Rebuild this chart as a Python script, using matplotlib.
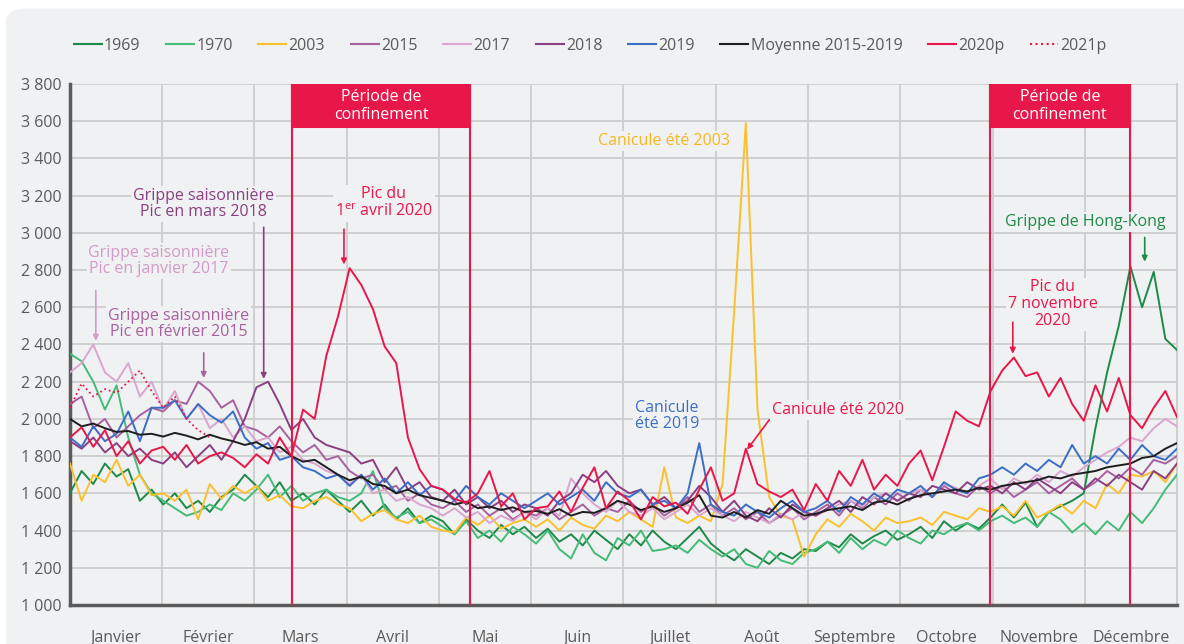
import numpy as np
import matplotlib.pyplot as plt
from matplotlib.patches import FancyBboxPatch, Rectangle
from matplotlib.lines import Line2D

plt.rcParams['font.family'] = ['Open Sans', 'DejaVu Sans']
plt.rcParams['mathtext.fontset'] = 'custom'
plt.rcParams['mathtext.rm'] = 'Open Sans'

# Décès quotidiens, 8 valeurs par mois
months = ['Janvier', 'Février', 'Mars', 'Avril', 'Mai', 'Juin', 'Juillet',
          'Août', 'Septembre', 'Octobre', 'Novembre', 'Décembre']
yticks = list(range(1000, 3801, 200))

d1969 = [1600, 1720, 1650, 1760, 1690, 1730, 1560, 1620,
         1540, 1600, 1520, 1560, 1500, 1580, 1620, 1700,
         1640, 1580, 1660, 1560, 1600, 1540, 1620, 1560,
         1500, 1560, 1480, 1540, 1460, 1520, 1440, 1480,
         1450, 1380, 1460, 1400, 1360, 1430, 1380, 1420,
         1360, 1410, 1340, 1380, 1320, 1400, 1350, 1300,
         1380, 1320, 1400, 1340, 1300, 1360, 1420, 1330,
         1280, 1240, 1300, 1260, 1220, 1280, 1250, 1300,
         1290, 1340, 1310, 1380, 1330, 1370, 1400, 1350,
         1380, 1420, 1360, 1450, 1400, 1440, 1410, 1470,
         1540, 1470, 1550, 1420, 1500, 1530, 1560, 1600,
         1950, 2250, 2500, 2820, 2600, 2790, 2430, 2370]

d1970 = [2350, 2310, 2200, 2050, 2180, 1900, 1700, 1600,
         1560, 1520, 1480, 1500, 1540, 1510, 1600, 1560,
         1620, 1700, 1580, 1640, 1560, 1600, 1620, 1580,
         1560, 1600, 1720, 1520, 1470, 1500, 1440, 1460,
         1420, 1380, 1450, 1360, 1400, 1340, 1420, 1380,
         1330, 1400, 1300, 1250, 1380, 1280, 1240, 1360,
         1320, 1400, 1290, 1300, 1320, 1280, 1350, 1300,
         1260, 1300, 1220, 1200, 1290, 1240, 1220, 1280,
         1300, 1340, 1280, 1360, 1300, 1350, 1320, 1400,
         1360, 1330, 1400, 1380, 1420, 1440, 1400, 1450,
         1480, 1440, 1470, 1420, 1500, 1460, 1390, 1440,
         1380, 1450, 1400, 1500, 1440, 1520, 1620, 1700]

d2003 = [1760, 1560, 1700, 1660, 1780, 1640, 1700, 1590,
         1600, 1560, 1620, 1460, 1650, 1570, 1640, 1600,
         1640, 1560, 1590, 1530, 1520, 1560, 1580, 1540,
         1520, 1450, 1490, 1510, 1460, 1440, 1480, 1420,
         1400, 1390, 1470, 1430, 1480, 1410, 1440, 1460,
         1420, 1460, 1400, 1470, 1430, 1410, 1480, 1450,
         1500, 1460, 1420, 1740, 1470, 1440, 1480, 1450,
         1650, 2580, 3590, 2050, 1580, 1480, 1460, 1260,
         1380, 1460, 1420, 1490, 1450, 1400, 1470, 1440,
         1450, 1470, 1430, 1500, 1480, 1460, 1520, 1500,
         1530, 1480, 1560, 1470, 1500, 1540, 1490, 1560,
         1520, 1650, 1600, 1700, 1690, 1720, 1660, 1760]

d2015 = [2080, 2120, 1950, 2000, 1900, 1960, 2020, 2060,
         2040, 2100, 2080, 2200, 2150, 2060, 2100, 1960,
         1940, 1900, 1960, 1880, 1820, 1860, 1780, 1800,
         1720, 1680, 1700, 1620, 1640, 1560, 1600, 1540,
         1520, 1560, 1500, 1540, 1480, 1520, 1460, 1500,
         1480, 1520, 1460, 1500, 1540, 1480, 1520, 1500,
         1560, 1500, 1540, 1480, 1520, 1580, 1500, 1540,
         1480, 1520, 1460, 1500, 1440, 1480, 1520, 1460,
         1500, 1540, 1480, 1560, 1520, 1580, 1540, 1600,
         1560, 1620, 1580, 1640, 1600, 1580, 1640, 1600,
         1640, 1580, 1620, 1660, 1600, 1640, 1680, 1620,
         1660, 1720, 1680, 1740, 1700, 1780, 1760, 1800]

d2017 = [2250, 2300, 2400, 2250, 2200, 2300, 2120, 2200,
         2050, 2150, 2000, 2080, 1950, 2000, 1900, 1960,
         1880, 1900, 1820, 1850, 1780, 1760, 1720, 1700,
         1650, 1700, 1600, 1620, 1560, 1580, 1540, 1520,
         1480, 1520, 1470, 1500, 1440, 1480, 1450, 1500,
         1460, 1520, 1480, 1680, 1600, 1540, 1500, 1560,
         1500, 1480, 1520, 1460, 1500, 1540, 1480, 1520,
         1480, 1450, 1500, 1470, 1440, 1490, 1460, 1500,
         1480, 1510, 1540, 1560, 1530, 1580, 1600, 1560,
         1600, 1620, 1580, 1650, 1630, 1600, 1640, 1680,
         1620, 1680, 1650, 1700, 1660, 1720, 1690, 1740,
         1780, 1820, 1850, 1900, 1880, 1950, 2000, 1960]

d2018 = [1880, 1840, 1900, 1820, 1870, 1800, 1840, 1780,
         1760, 1820, 1740, 1800, 1860, 1780, 1880, 2000,
         2170, 2200, 2080, 1940, 2000, 1900, 1860, 1840,
         1820, 1760, 1780, 1660, 1740, 1620, 1660, 1580,
         1560, 1620, 1540, 1580, 1520, 1560, 1500, 1540,
         1520, 1480, 1560, 1600, 1700, 1660, 1720, 1640,
         1600, 1620, 1540, 1580, 1520, 1560, 1640, 1580,
         1500, 1560, 1480, 1450, 1520, 1470, 1540, 1500,
         1480, 1520, 1560, 1500, 1580, 1540, 1600, 1560,
         1600, 1580, 1640, 1620, 1600, 1660, 1620, 1640,
         1600, 1660, 1620, 1680, 1640, 1600, 1660, 1620,
         1680, 1640, 1700, 1660, 1620, 1720, 1680, 1760]

d2019 = [1900, 1850, 1960, 1880, 1920, 2040, 1880, 2060,
         2060, 2100, 2000, 2080, 2020, 1980, 2040, 1900,
         1840, 1870, 1780, 1800, 1740, 1720, 1680, 1700,
         1640, 1700, 1620, 1680, 1600, 1660, 1590, 1640,
         1620, 1560, 1640, 1580, 1540, 1600, 1560, 1520,
         1560, 1600, 1540, 1580, 1620, 1560, 1660, 1600,
         1580, 1620, 1540, 1560, 1520, 1600, 1870, 1540,
         1500, 1480, 1540, 1500, 1470, 1520, 1560, 1500,
         1520, 1560, 1500, 1580, 1540, 1600, 1560, 1620,
         1600, 1640, 1580, 1660, 1620, 1600, 1680, 1700,
         1740, 1700, 1760, 1720, 1780, 1740, 1860, 1760,
         1800, 1760, 1840, 1780, 1860, 1800, 1780, 1840]

moyenne = [2000, 1960, 1975, 1950, 1930, 1935, 1915, 1920,
           1905, 1925, 1910, 1890, 1915, 1895, 1880, 1860,
           1875, 1840, 1850, 1800, 1770, 1780, 1740, 1700,
           1670, 1690, 1650, 1640, 1600, 1620, 1590, 1575,
           1560, 1540, 1555, 1520, 1530, 1510, 1525, 1500,
           1505, 1490, 1515, 1480, 1500, 1495, 1520, 1560,
           1540, 1510, 1530, 1500, 1520, 1550, 1590, 1480,
           1470, 1500, 1470, 1510, 1490, 1560, 1520, 1480,
           1490, 1510, 1520, 1530, 1510, 1550, 1560, 1540,
           1570, 1590, 1600, 1610, 1620, 1610, 1630, 1620,
           1640, 1650, 1660, 1670, 1690, 1680, 1700, 1710,
           1720, 1740, 1750, 1760, 1790, 1800, 1840, 1870]

d2020 = [1900, 1955, 1850, 1940, 1800, 1880, 1760, 1830,
         1850, 1780, 1860, 1760, 1800, 1820, 1790, 1740,
         1810, 1760, 1900, 1800, 2050, 2000, 2340, 2550,
         2810, 2720, 2590, 2390, 2300, 1900, 1730, 1640,
         1620, 1570, 1550, 1600, 1720, 1530, 1600, 1460,
         1520, 1530, 1610, 1500, 1630, 1740, 1520, 1610,
         1560, 1460, 1580, 1530, 1550, 1490, 1620, 1740,
         1560, 1600, 1840, 1650, 1610, 1580, 1620, 1510,
         1650, 1560, 1720, 1640, 1780, 1620, 1700, 1640,
         1760, 1830, 1670, 1850, 2040, 1990, 1960, 2150,
         2260, 2330, 2230, 2250, 2120, 2220, 2080, 1990,
         2180, 2040, 2220, 2020, 1950, 2060, 2150, 2010]

d2021 = [2060, 2190, 2120, 2160, 2140, 2200, 2260, 2150,
         2060, 2120, 2000, 1940, 1900]

red = '#e8174a'
bg = '#f0f1f3'
series = [
    ('1969', d1969, '#1e8a47', '-'),
    ('1970', d1970, '#45bb78', '-'),
    ('2003', d2003, '#fbc02d', '-'),
    ('2015', d2015, '#a8619f', '-'),
    ('2017', d2017, '#d9a6cd', '-'),
    ('2018', d2018, '#8a3f82', '-'),
    ('2019', d2019, '#3b6ec4', '-'),
    ('Moyenne 2015-2019', moyenne, '#1e1e1e', '-'),
    ('2020p', d2020, red, '-'),
    ('2021p', d2021, red, ':'),
]

fig = plt.figure(figsize=(11.84, 6.44), dpi=100)
fig.patch.set_facecolor('white')
fig.add_artist(FancyBboxPatch((0.005, -0.05), 1.1, 1.037,
                              boxstyle='round,pad=0,rounding_size=0.02',
                              transform=fig.transFigure, fc=bg, ec='none',
                              zorder=-10))

ax = fig.add_axes([0.0591, 0.0606, 0.9350, 0.809])
ax.set_facecolor(bg)

handles = []
for label, vals, color, ls in series:
    x = np.arange(len(vals)) * 12 / 95
    lw = 1.3 if ls == ':' else 1.4
    ax.plot(x, vals, color=color, lw=lw, ls=ls, zorder=3)
    handles.append(Line2D([], [], color=color, lw=1.5, ls=ls))

ax.set_xlim(0, 12)
ax.set_ylim(1000, 3800)
ax.set_yticks(yticks)
ax.set_yticklabels([f'{v:,}'.replace(',', ' ') for v in yticks])
ax.set_xticks(np.arange(13))
ax.set_xticklabels([])
ax.set_xticks(np.arange(12) + 0.5, minor=True)
ax.set_xticklabels(months, minor=True)
ax.tick_params(axis='both', which='both', length=0, colors='#5a5a5a',
               labelsize=11.5)
ax.tick_params(axis='x', which='minor', pad=18)
ax.tick_params(axis='y', pad=6)
ax.grid(True, which='major', color='#cdcdcd', lw=1.3, zorder=0)
ax.set_axisbelow(True)
for side in ['left', 'bottom']:
    ax.spines[side].set_color('#5b5b5b')
    ax.spines[side].set_linewidth(2.5)
ax.spines['right'].set_color('#cdcdcd')
ax.spines['right'].set_linewidth(1.3)
ax.spines['top'].set_visible(False)

# périodes de confinement
for x0, x1 in [(2.41, 4.34), (9.97, 11.49)]:
    for xv in (x0, x1):
        ax.axvline(xv, color=red, lw=1.5, zorder=4)
    ax.add_patch(Rectangle((x0, 3570), x1 - x0, 230, fc=red, ec=red,
                           lw=1.5, zorder=5))
    ax.text((x0 + x1) / 2, 3683, 'Période de\nconfinement', color='white',
            ha='center', va='center', fontsize=11.5, linespacing=1.15,
            zorder=6)

box = dict(boxstyle='square,pad=0.12', fc=bg, ec='none')


def note(x, y, s, color):
    ax.text(x, y, s, color=color, ha='center', va='center', fontsize=11.5,
            linespacing=1.05, bbox=box, zorder=6)


def arrow(x, y0, y1, color, x1=None):
    ax.annotate('', xy=(x if x1 is None else x1, y1), xytext=(x, y0),
                arrowprops=dict(arrowstyle='-|>', color=color, lw=1.2,
                                mutation_scale=8, shrinkA=0, shrinkB=0),
                zorder=6)


note(6.44, 3494, 'Canicule été 2003', '#f5b822')
note(1.45, 3155, 'Grippe saisonnière\nPic en mars 2018', '#8a3f82')
arrow(2.10, 3030, 2215, '#8a3f82')
note(3.40, 3160, 'Pic du\n1$^{\\mathrm{er}}$ avril 2020', red)
arrow(2.97, 3020, 2830, red)
note(0.965, 2849, 'Grippe saisonnière\nPic en janvier 2017', '#d49ac8')
arrow(0.28, 2690, 2420, '#d49ac8')
note(1.18, 2510, 'Grippe saisonnière\nPic en février 2015', '#a8619f')
arrow(1.45, 2355, 2220, '#a8619f')
note(11.0, 3058, 'Grippe de Hong-Kong', '#1e8a47')
arrow(11.65, 2975, 2845, '#1e8a47')
note(10.65, 2617, 'Pic du\n7 novembre\n2020', red)
arrow(10.22, 2520, 2350, red)
note(6.47, 2016, 'Canicule\nété 2019', '#3b6ec4')
note(8.32, 2048, 'Canicule été 2020', red)
arrow(7.58, 1995, 1835, red, x1=7.34)

fig.legend(handles, [s[0] for s in series], loc='center left',
           bbox_to_anchor=(0.050, 1 - 46 / 644), ncol=10, frameon=False,
           fontsize=11.5, handlelength=1.75, handletextpad=0.15,
           columnspacing=1.6, labelcolor='#5a5a5a')

fig.savefig('out.png', dpi=100, facecolor=fig.get_facecolor())
